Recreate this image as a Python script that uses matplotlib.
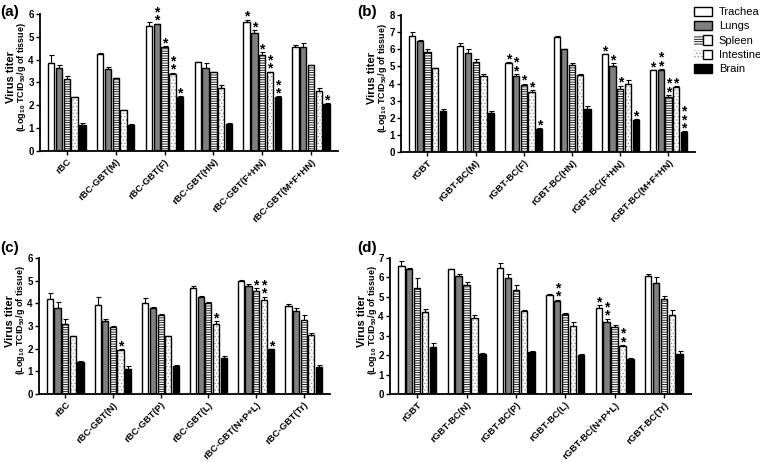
import numpy as np
import matplotlib
matplotlib.use('Agg')
import matplotlib.pyplot as plt
from matplotlib.patches import Patch
from matplotlib.legend_handler import HandlerTuple

plt.rcParams['font.family'] = ['Liberation Sans', 'DejaVu Sans']
plt.rcParams['hatch.linewidth'] = 0.6
plt.rcParams['mathtext.fontset'] = 'custom'
plt.rcParams['mathtext.rm'] = 'Liberation Sans:bold'
plt.rcParams['mathtext.bf'] = 'Liberation Sans:bold'

tissues = ['Trachea', 'Lungs', 'Spleen', 'Intestine', 'Brain']

# panel (a)
groups_a = ['rBC', 'rBC-GBT(M)', 'rBC-GBT(F)', 'rBC-GBT(HN)', 'rBC-GBT(F+HN)', 'rBC-GBT(M+F+HN)']
vals_a = [[3.87, 3.65, 3.15, 2.35, 1.12],
          [4.25, 3.60, 3.18, 1.78, 1.15],
          [5.47, 5.55, 4.55, 3.38, 2.37],
          [3.88, 3.65, 3.45, 2.77, 1.20],
          [5.65, 5.15, 4.20, 3.45, 2.35],
          [4.55, 4.55, 3.75, 2.62, 2.05]]
err_a = [[0.33, 0.12, 0.13, 0.03, 0.10],
         [0.03, 0.07, 0.03, 0.01, 0.03],
         [0.20, 0.03, 0.05, 0.05, 0.04],
         [0.02, 0.20, 0.03, 0.10, 0.02],
         [0.10, 0.13, 0.12, 0.03, 0.04],
         [0.10, 0.18, 0.03, 0.15, 0.03]]
stars_a = [[0, 0, 0, 0, 0],
           [0, 0, 0, 0, 0],
           [0, 2, 1, 2, 1],
           [0, 0, 0, 0, 0],
           [1, 1, 1, 2, 2],
           [0, 0, 0, 0, 1]]

# panel (b)
groups_b = ['rGBT', 'rGBT-BC(M)', 'rGBT-BC(F)', 'rGBT-BC(HN)', 'rGBT-BC(F+HN)', 'rGBT-BC(M+F+HN)']
vals_b = [[6.80, 6.50, 5.85, 4.88, 2.42],
          [6.20, 5.78, 5.28, 4.45, 2.27],
          [5.22, 4.45, 3.90, 3.52, 1.37],
          [6.70, 6.02, 5.10, 4.48, 2.52],
          [5.70, 5.00, 3.70, 3.97, 1.87],
          [4.77, 4.77, 3.22, 3.77, 1.17]]
err_b = [[0.20, 0.05, 0.15, 0.05, 0.08],
         [0.15, 0.25, 0.15, 0.12, 0.12],
         [0.02, 0.10, 0.10, 0.08, 0.04],
         [0.07, 0.02, 0.08, 0.06, 0.15],
         [0.03, 0.20, 0.18, 0.25, 0.04],
         [0.03, 0.08, 0.10, 0.06, 0.03]]
stars_b = [[0, 0, 0, 0, 0],
           [0, 0, 0, 0, 0],
           [1, 2, 1, 1, 1],
           [0, 0, 0, 0, 0],
           [1, 1, 1, 0, 1],
           [1, 2, 2, 1, 3]]

# panel (c)
groups_c = ['rBC', 'rBC-GBT(N)', 'rBC-GBT(P)', 'rBC-GBT(L)', 'rBC-GBT(N+P+L)', 'rBC-GBT(Tr)']
vals_c = [[4.17, 3.80, 3.10, 2.55, 1.40],
          [3.93, 3.20, 2.95, 1.95, 1.12],
          [4.00, 3.78, 3.50, 2.55, 1.25],
          [4.68, 4.27, 4.00, 3.10, 1.58],
          [4.97, 4.78, 4.53, 4.15, 1.97],
          [3.88, 3.65, 3.25, 2.60, 1.20]]
err_c = [[0.27, 0.25, 0.20, 0.03, 0.07],
         [0.37, 0.12, 0.03, 0.03, 0.10],
         [0.22, 0.07, 0.04, 0.03, 0.03],
         [0.07, 0.05, 0.06, 0.10, 0.10],
         [0.05, 0.06, 0.13, 0.15, 0.02],
         [0.10, 0.13, 0.25, 0.08, 0.07]]
stars_c = [[0, 0, 0, 0, 0],
           [0, 0, 0, 1, 0],
           [0, 0, 0, 0, 0],
           [0, 0, 0, 1, 0],
           [0, 0, 1, 2, 1],
           [0, 0, 0, 0, 0]]

# panel (d)
groups_d = ['rGBT', 'rGBT-BC(N)', 'rGBT-BC(P)', 'rGBT-BC(L)', 'rGBT-BC(N+P+L)', 'rGBT-BC(Tr)']
vals_d = [[6.57, 6.42, 5.45, 4.20, 2.43],
          [6.42, 6.05, 5.60, 3.92, 2.07],
          [6.48, 5.98, 5.33, 4.28, 2.18],
          [5.10, 4.78, 4.10, 3.48, 2.03],
          [4.42, 3.68, 3.45, 2.47, 1.82],
          [6.05, 5.70, 4.88, 4.07, 2.05]]
err_d = [[0.30, 0.08, 0.50, 0.15, 0.18],
         [0.02, 0.15, 0.15, 0.15, 0.03],
         [0.25, 0.20, 0.30, 0.02, 0.02],
         [0.05, 0.08, 0.08, 0.20, 0.02],
         [0.15, 0.20, 0.12, 0.04, 0.03],
         [0.15, 0.30, 0.18, 0.25, 0.15]]
stars_d = [[0, 0, 0, 0, 0],
           [0, 0, 0, 0, 0],
           [0, 0, 0, 0, 0],
           [0, 2, 0, 0, 0],
           [1, 2, 0, 2, 0],
           [0, 0, 0, 0, 0]]

fill = ['white', '#808080', 'white', 'white', 'black']
hatches = [None, None, '-------', '.....', None]
hatch_col = ['k', 'k', 'k', '#999999', 'k']

W, H = 760, 462
fig = plt.figure(figsize=(W / 100, H / 100), dpi=100)


def panel(rect, groups, vals, errs, stars, ymax, label, lx, ly):
    ax = fig.add_axes(rect)
    vals = np.array(vals)
    errs = np.array(errs)
    g = np.arange(len(groups))
    step, w = 0.16, 0.13
    for i in range(5):
        x = g + (i - 2) * step
        if hatches[i]:
            ax.bar(x, vals[:, i], w, color=fill[i], edgecolor=hatch_col[i],
                   hatch=hatches[i], linewidth=0, zorder=2)
            ax.bar(x, vals[:, i], w, fill=False, edgecolor='k', linewidth=1.0, zorder=3)
        else:
            ax.bar(x, vals[:, i], w, color=fill[i], edgecolor='k', linewidth=1.0, zorder=2)
        ax.errorbar(x, vals[:, i], yerr=[np.zeros(len(g)), errs[:, i]], fmt='none',
                    ecolor='k', elinewidth=0.8, capsize=1.8, capthick=0.8, zorder=1)
        for j in range(len(g)):
            n = stars[j][i]
            if n:
                # stacked asterisks as one text block
                ax.annotate('\n'.join(['*'] * n), xy=(x[j], vals[j, i] + errs[j, i]),
                            xytext=(0, -3), textcoords='offset points', ha='center',
                            va='bottom', fontsize=10, fontweight='bold', linespacing=0.5)
    ax.set_xlim(-0.55, len(groups) - 0.45)
    ax.set_ylim(0, ymax)
    ax.set_yticks(range(ymax + 1))
    ax.set_xticks(g)
    ax.set_xticklabels(groups, rotation=45, ha='right', rotation_mode='anchor',
                       fontsize=6.8, fontweight='bold')
    for t in ax.get_yticklabels():
        t.set_fontweight('bold')
        t.set_fontsize(7)
    ax.tick_params(axis='both', length=3, width=1, pad=1.5)
    ax.spines['top'].set_visible(False)
    ax.spines['right'].set_visible(False)
    ax.spines['left'].set_linewidth(1.3)
    ax.spines['bottom'].set_linewidth(1.3)
    # two-line y label, first line drawn a bit larger as in the original
    yc = rect[1] + rect[3] * 0.54
    fig.text(rect[0] - 28.5 / W, yc, 'Virus titer', rotation=90, ha='center', va='center',
             fontsize=8, fontweight='bold')
    fig.text(rect[0] - 18 / W, yc, '(Log$_{10}$ TCID$_{50}$/g of tissue)', rotation=90,
             ha='center', va='center', fontsize=6.5, fontweight='bold')
    fig.text(lx, ly, label, fontsize=11, fontweight='bold', ha='left', va='center')
    return ax


panel([0.0526, 0.6732, 0.392, 0.2965], groups_a, vals_a, err_a, stars_a, 6, '(a)', 0.0, 0.973)
panel([0.5276, 0.6710, 0.3868, 0.2965], groups_b, vals_b, err_b, stars_b, 8, '(b)', 0.470, 0.973)
panel([0.0513, 0.1472, 0.3829, 0.2944], groups_c, vals_c, err_c, stars_c, 6, '(c)', 0.0, 0.463)
panel([0.5132, 0.1472, 0.3960, 0.2944], groups_d, vals_d, err_d, stars_d, 7, '(d)', 0.470, 0.463)

handles = []
for i in range(5):
    if hatches[i]:
        handles.append((Patch(facecolor=fill[i], edgecolor=hatch_col[i], hatch=hatches[i], linewidth=0),
                        Patch(fill=False, edgecolor='k', linewidth=1.0)))
    else:
        handles.append(Patch(facecolor=fill[i], edgecolor='k', linewidth=1.0))
fig.legend(handles, tissues, loc='upper left', bbox_to_anchor=(0.905, 1.0), frameon=False,
           fontsize=8, handlelength=1.6, handleheight=0.9, labelspacing=0.35,
           handletextpad=0.6, borderaxespad=0.2,
           handler_map={tuple: HandlerTuple(ndivide=None, pad=0)})

fig.savefig('out.png', dpi=100)
